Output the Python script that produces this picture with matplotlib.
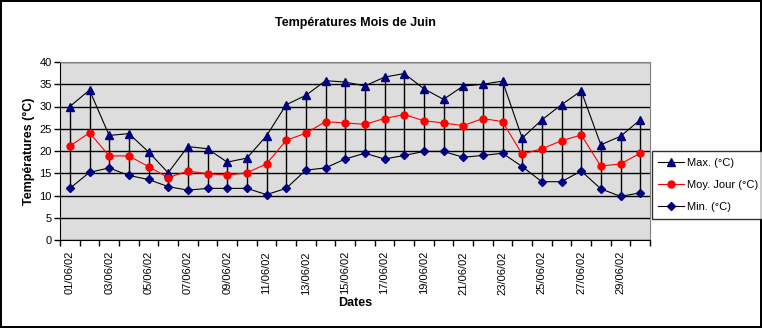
import numpy as np
import matplotlib.pyplot as plt
from matplotlib.ticker import FixedLocator

plt.rcParams["font.family"] = ["Liberation Sans", "DejaVu Sans"]

# ==========================
# DATA
# ==========================

dates = ["%02d/06/02" % d for d in range(1, 31)]

t_max = [30.0, 33.7, 23.5, 23.9, 19.8, 15.1, 21.0, 20.5, 17.5, 18.4,
         23.4, 30.4, 32.5, 35.8, 35.5, 34.6, 36.6, 37.4, 34.0, 31.6,
         34.6, 35.0, 35.7, 22.9, 27.0, 30.4, 33.5, 21.4, 23.3, 27.0]

t_moy = [21.1, 24.1, 18.9, 18.9, 16.5, 14.0, 15.5, 14.9, 14.6, 15.1,
         17.1, 22.4, 24.0, 26.6, 26.3, 26.0, 27.3, 28.2, 26.8, 26.3,
         25.7, 27.3, 26.6, 19.3, 20.5, 22.3, 23.6, 16.6, 17.1, 19.5]

t_min = [11.6, 15.2, 16.2, 14.5, 13.6, 12.0, 11.2, 11.6, 11.6, 11.6,
         10.2, 11.6, 15.7, 16.2, 18.2, 19.5, 18.2, 19.0, 19.9, 19.9,
         18.6, 19.0, 19.5, 16.5, 13.1, 13.1, 15.5, 11.5, 9.8, 10.6]

# ==========================
# PLOT
# ==========================

navy = "#000080"
x = np.arange(len(dates))

fig = plt.figure(figsize=(7.62, 3.28), dpi=100)
fig.patch.set_edgecolor("black")
fig.patch.set_linewidth(1.5)

ax = fig.add_axes([60 / 762, 88 / 328, 590 / 762, 178 / 328])
ax.set_facecolor("#DDDDDD")

# high-low lines
ax.vlines(x, t_min, t_max, color="black", linewidth=1, zorder=2)

ax.plot(x, t_max, color="black", linewidth=0.8, marker="^", markersize=5.5,
        markerfacecolor=navy, markeredgecolor=navy, label="Max. (°C)", zorder=3)
ax.plot(x, t_moy, color="red", linewidth=0.8, marker="o", markersize=5,
        markerfacecolor="red", markeredgecolor="red", label="Moy. Jour (°C)", zorder=3)
ax.plot(x, t_min, color="black", linewidth=0.8, marker="D", markersize=4,
        markerfacecolor=navy, markeredgecolor=navy, label="Min. (°C)", zorder=3)

ax.set_xlim(-0.5, len(dates) - 0.5)
ax.set_ylim(0, 40)
ax.set_yticks(np.arange(0, 41, 5))
ax.yaxis.grid(True, color="black", linewidth=1)
ax.set_axisbelow(True)

ax.set_xticks(x[::2])
ax.set_xticklabels(dates[::2], rotation=90, fontsize=8)
ax.xaxis.set_minor_locator(FixedLocator(np.arange(-0.5, len(dates), 1)))
ax.tick_params(axis="x", which="major", length=0, pad=8)
ax.tick_params(axis="x", which="minor", length=4, width=1, direction="out")
ax.tick_params(axis="y", labelsize=8, length=4, width=1, pad=2)

for s in ["top", "right"]:
    ax.spines[s].set_color("#808080")
for s in ["left", "bottom"]:
    ax.spines[s].set_color("black")

ax.set_title("Températures Mois de Juin", fontsize=9, fontweight="bold", pad=26)
ax.set_ylabel("Températures (°C)", fontsize=9, fontweight="bold", labelpad=3)
ax.set_xlabel("Dates", fontsize=9, fontweight="bold", labelpad=2)

leg = ax.legend(loc="center left", bbox_to_anchor=(1.003, 0.31), fontsize=8,
                frameon=True, fancybox=False, edgecolor="black",
                borderpad=0.6, labelspacing=1.1, handlelength=2.3,
                handletextpad=0.3, borderaxespad=0)
leg.get_frame().set_linewidth(1)

plt.savefig("out.png", dpi=100, edgecolor=fig.get_edgecolor())
